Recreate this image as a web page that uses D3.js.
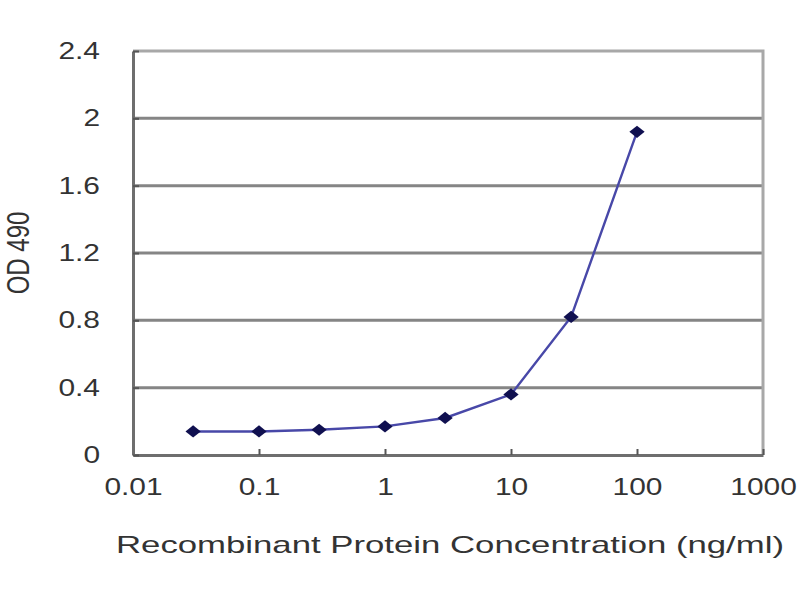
<!DOCTYPE html>
<html>
<head>
<meta charset="utf-8">
<script src="https://cdn.jsdelivr.net/npm/d3@7"></script>
<style>
  body { margin: 0; background: #fff; }
  text { font-family: "Liberation Sans", Arial, sans-serif; fill: #333; }
</style>
</head>
<body>
<svg id="chart-svg" width="800" height="600"></svg>
<script>
const concentrations = [0.03, 0.1, 0.3, 1, 3, 10, 30, 100];
const odValues = [0.14, 0.14, 0.15, 0.17, 0.22, 0.36, 0.82, 1.92];
const xTicks = [0.01, 0.1, 1, 10, 100, 1000];
const xTickLabels = ["0.01", "0.1", "1", "10", "100", "1000"];
const yTicks = [0, 0.4, 0.8, 1.2, 1.6, 2, 2.4];
const yTickLabels = ["0", "0.4", "0.8", "1.2", "1.6", "2", "2.4"];

const svg = d3.select("#chart-svg");
const margin = { top: 51, right: 37, bottom: 145, left: 133 };
const width = 800 - margin.left - margin.right;
const height = 600 - margin.top - margin.bottom;
const stretch = 1.3; // source picture is squashed wider than it is tall

const x = d3.scaleLog().domain([0.01, 1000]).range([margin.left, margin.left + width]);
const y = d3.scaleLinear().domain([0, 2.4]).range([margin.top + height, margin.top]);

// stretch text sideways like the source image
function widen(sel) {
  sel.each(function () {
    const w = this.getComputedTextLength();
    d3.select(this).attr("textLength", w * stretch).attr("lengthAdjust", "spacingAndGlyphs");
  });
}

// gridlines
svg.append("g")
  .selectAll("line")
  .data(yTicks.filter(d => d > 0 && d < 2.4))
  .join("line")
  .attr("x1", x(0.01)).attr("x2", x(1000))
  .attr("y1", d => y(d)).attr("y2", d => y(d))
  .attr("stroke", "#858585").attr("stroke-width", 3);

// plot border (top + right)
svg.append("path")
  .attr("d", `M${x(0.01)},${y(2.4)}H${x(1000)}V${y(0)}`)
  .attr("fill", "none").attr("stroke", "#a8a8a8").attr("stroke-width", 3);

// x axis
const xAxis = svg.append("g")
  .attr("transform", `translate(0,${y(0)})`)
  .call(d3.axisBottom(x).tickValues(xTicks).tickSizeInner(-6).tickSizeOuter(0)
    .tickFormat((d, i) => xTickLabels[i]).tickPadding(24));
xAxis.select(".domain").attr("stroke", "#6e6e6e").attr("stroke-width", 3);
xAxis.selectAll(".tick line").attr("stroke", "#555").attr("stroke-width", 2);
xAxis.selectAll(".tick text").style("font-size", "23px").attr("fill", "#333").call(widen);

// y axis
const yAxis = svg.append("g")
  .attr("transform", `translate(${x(0.01)},0)`)
  .call(d3.axisLeft(y).tickValues(yTicks).tickSizeInner(-6).tickSizeOuter(0)
    .tickFormat((d, i) => yTickLabels[i]).tickPadding(33));
yAxis.select(".domain").attr("stroke", "#6e6e6e").attr("stroke-width", 3);
yAxis.selectAll(".tick line").attr("stroke", "#555").attr("stroke-width", 2);
yAxis.selectAll(".tick text").style("font-size", "23px").attr("fill", "#333").call(widen);

// data line
const pts = concentrations.map((c, i) => [c, odValues[i]]);
svg.append("path")
  .datum(pts)
  .attr("fill", "none")
  .attr("stroke", "#4848a8")
  .attr("stroke-width", 2.4)
  .attr("d", d3.line().x(d => x(d[0])).y(d => y(d[1])));

svg.append("g")
  .selectAll("path")
  .data(pts)
  .join("path")
  .attr("transform", d => `translate(${x(d[0])},${y(d[1])}) scale(1.25,1)`)
  .attr("d", d3.symbol().type(d3.symbolDiamond2).size(95))
  .attr("fill", "#101050");

// axis titles
svg.append("text")
  .attr("x", 450)
  .attr("y", 553)
  .attr("text-anchor", "middle")
  .style("font-size", "24px")
  .attr("textLength", 668)
  .attr("lengthAdjust", "spacingAndGlyphs")
  .text("Recombinant Protein Concentration (ng/ml)");

svg.append("text")
  .attr("transform", `translate(${29},253) scale(${stretch},1) rotate(-90)`)
  .attr("x", 0)
  .attr("y", 0)
  .attr("text-anchor", "middle")
  .style("font-size", "24px")
  .text("OD 490");
</script>
</body>
</html>
